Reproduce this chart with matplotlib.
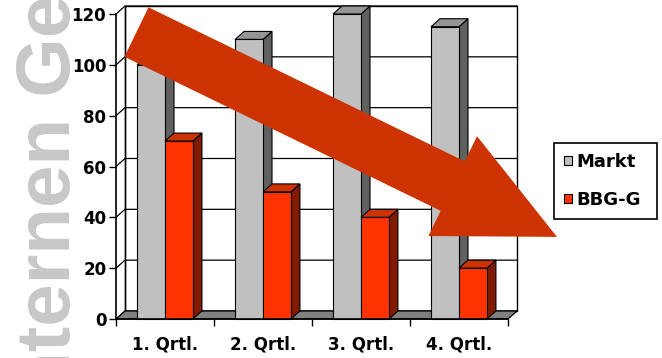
import matplotlib.pyplot as plt
from matplotlib.patches import Polygon, Rectangle, Patch
import numpy as np

quarters = ['1. Qrtl.', '2. Qrtl.', '3. Qrtl.', '4. Qrtl.']
markt = [100, 110, 120, 115]
bbg = [70, 50, 40, 20]
yticks = [0, 20, 40, 60, 80, 100, 120]

W, H = 662, 358
fig = plt.figure(figsize=(W / 100, H / 100), dpi=100)
ax = fig.add_axes([116 / W, 1 - 319 / H, 392 / W, 305 / H])
ax.set_xlim(-0.5, 3.5)
ax.set_ylim(0, 120)

# depth of the fake 3d effect in data units (about 9 px right, 8 px up)
dx = 9 / 392 * 4
dy = 8 / 305 * 120

# back wall + grid
ax.add_patch(Rectangle((-0.5 + dx, dy), 4, 120, fc='white', ec='black', lw=1,
                       clip_on=False, zorder=0))
for y in yticks:
    ax.plot([-0.5, -0.5 + dx, 3.5 + dx], [y, y + dy, y + dy], color='black',
            lw=0.9, clip_on=False, zorder=0.5)
ax.plot([-0.5 + dx, -0.5 + dx], [dy, 120 + dy], color='black', lw=1, clip_on=False, zorder=0.5)

# floor
ax.add_patch(Polygon([(-0.5, 0), (3.5, 0), (3.5 + dx, dy), (-0.5 + dx, dy)],
                     fc='#808080', ec='black', lw=0.9, clip_on=False, zorder=1))

x = np.arange(len(quarters))
w = 0.285
series = [
    (markt, -w / 2, '#C0C0C0', '#969696', '#606060'),
    (bbg, w / 2, '#FF3300', '#CC3300', '#801A00'),
]
z = 2
for i in range(len(quarters)):
    for vals, off, front, top, side in series:
        v = vals[i]
        x0 = x[i] + off - w / 2
        x1 = x0 + w
        ax.add_patch(Polygon([(x1, 0), (x1 + dx, dy), (x1 + dx, v + dy), (x1, v)],
                             fc=side, ec='black', lw=0.8, clip_on=False, zorder=z))
        ax.add_patch(Polygon([(x0, v), (x1, v), (x1 + dx, v + dy), (x0 + dx, v + dy)],
                             fc=top, ec='black', lw=0.8, clip_on=False, zorder=z))
        ax.bar(x0, v, width=w, align='edge', color=front, edgecolor='black',
               lw=0.8, zorder=z + 0.1, clip_on=False)
        z += 1

# axes look
for s in ['top', 'right']:
    ax.spines[s].set_visible(False)
for s in ['left', 'bottom']:
    ax.spines[s].set_linewidth(1.2)
    ax.spines[s].set_zorder(50)
ax.set_yticks(yticks)
ax.set_yticklabels([str(t) for t in yticks], fontsize=12, fontweight='bold')
ax.tick_params(axis='y', direction='out', length=5, width=1, pad=2)
ax.set_xticks(x)
ax.set_xticklabels(quarters, fontsize=12, fontweight='bold')
ax.set_xticks(np.arange(-0.5, 4, 1), minor=True)
ax.tick_params(axis='x', which='major', length=0, pad=12)
ax.tick_params(axis='x', which='minor', direction='out', length=5, width=1)

# big red arrow (tail / tip in data coords, sizes in pixels)
tail = ax.transData.transform((-0.291, 112.9))
tip = ax.transData.transform((4.0, 32.3))
shaft_w, head_w, head_l = 55, 111, 116
d = tip - tail
u = d / np.hypot(*d)
n = np.array([-u[1], u[0]])
base = tip - u * head_l
pts = [tail + n * shaft_w / 2, base + n * shaft_w / 2, base + n * head_w / 2, tip,
       base - n * head_w / 2, base - n * shaft_w / 2, tail - n * shaft_w / 2]
pts = fig.transFigure.inverted().transform(np.array(pts))
fig.add_artist(Polygon(pts, closed=True, fc='#CC3300', ec='none',
                       transform=fig.transFigure, zorder=100))

# legend
handles = [Patch(fc='#C0C0C0', ec='black', lw=0.8), Patch(fc='#FF3300', ec='black', lw=0.8)]
leg = fig.legend(handles, ['Markt', 'BBG-G'], loc='upper left', mode='expand',
                 bbox_to_anchor=(554 / W, 1 - 219 / H, 103 / W, 76 / H),
                 prop={'weight': 'bold', 'size': 13},
                 frameon=True, fancybox=False, edgecolor='black', framealpha=1,
                 borderaxespad=0, borderpad=0.55, handlelength=0.45, handleheight=0.45,
                 handletextpad=0.25, labelspacing=1.1)
leg.get_frame().set_linewidth(1.2)

# watermark on the left
fig.text(70 / W, -61 / H, 'Internen Gebrauch', rotation=90, rotation_mode='anchor',
         ha='left', va='baseline', fontsize=55, family='Liberation Sans',
         fontweight='bold', color='#C8C8C8', zorder=-1)

fig.savefig('out.png', dpi=100)
